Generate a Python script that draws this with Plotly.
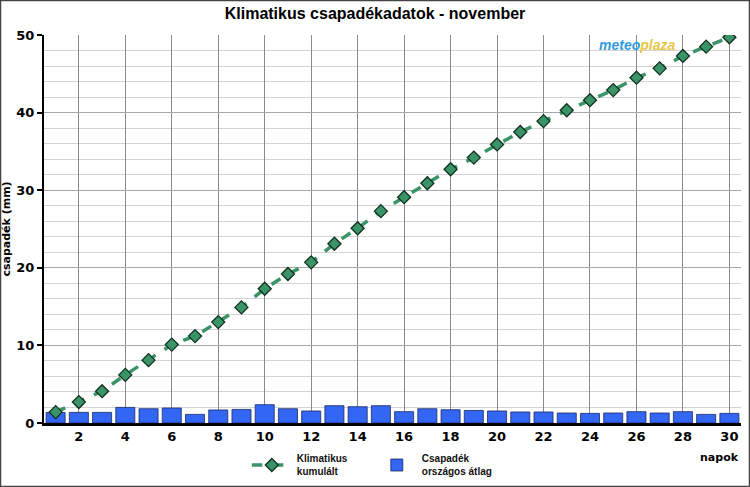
import plotly.graph_objects as go

days = list(range(1, 31))
daily_avg = [1.37, 1.37, 1.37, 2.01, 1.84, 1.93, 1.11, 1.68, 1.75, 2.36,
             1.84, 1.55, 2.23, 2.10, 2.23, 1.46, 1.84, 1.71, 1.62, 1.55,
             1.42, 1.42, 1.29, 1.24, 1.29, 1.46, 1.29, 1.46, 1.11, 1.24]
cumulative = [1.4, 2.7, 4.1, 6.2, 8.1, 10.1, 11.2, 13.0, 14.9, 17.3,
              19.2, 20.7, 23.1, 25.1, 27.3, 29.1, 30.9, 32.7, 34.2, 35.9,
              37.5, 38.9, 40.3, 41.6, 42.9, 44.5, 45.7, 47.3, 48.5, 49.7]
x_ticks = list(range(2, 31, 2))
y_ticks = [0, 10, 20, 30, 40, 50]

fig = go.Figure()
fig.add_trace(go.Bar(
    x=days, y=daily_avg, name="<b>Csapadék<br>országos átlag</b>",
    width=0.82,
    marker=dict(color="#3366f2", line=dict(color="#1a2a66", width=0.8)),
))
fig.add_trace(go.Scatter(
    x=days, y=cumulative, mode="lines+markers",
    name="<b>Klimatikus<br>kumulált</b>",
    line=dict(color="#3a9468", width=3.5, dash="dash"),
    marker=dict(symbol="diamond", size=10, color="#3a9468",
                line=dict(color="#10301f", width=1.3)),
))

fig.update_layout(
    width=750, height=487,
    margin=dict(l=44, r=9, t=35, b=64, autoexpand=False),
    paper_bgcolor="white", plot_bgcolor="white",
    title=dict(text="<b>Klimatikus csapadékadatok - november</b>",
               x=0.5, xanchor="center", y=0.972, yanchor="middle",
               font=dict(family="Liberation Sans", size=16, color="black")),
    showlegend=True,
    legend=dict(orientation="h", x=0.291, y=-0.058, xanchor="left", yanchor="top",
                traceorder="reversed",
                font=dict(family="Liberation Sans", size=10, color="#111"),
                itemwidth=40, entrywidth=70, bgcolor="rgba(0,0,0,0)"),
    font=dict(family="DejaVu Sans", color="black"),
)
fig.update_xaxes(
    range=[0.5, 30.5], tickmode="array", tickvals=x_ticks,
    ticktext=[f"<b>{t}</b>" for t in x_ticks],
    tickfont=dict(family="DejaVu Sans", size=13, color="black"),
    showgrid=True, gridcolor="#8a8a8a", gridwidth=1,
    showline=True, linecolor="black", linewidth=2.5,
    ticks="", zeroline=False, automargin=False,
)
fig.update_yaxes(
    range=[0, 50], tickmode="array", tickvals=y_ticks,
    ticktext=[f"<b>{t}</b>" for t in y_ticks],
    tickfont=dict(family="DejaVu Sans", size=13, color="black"),
    showgrid=True, gridcolor="#a8a8a8", gridwidth=1,
    minor=dict(dtick=2, showgrid=True, gridcolor="#d4d4d4", gridwidth=1),
    showline=True, linecolor="black", linewidth=2,
    ticks="outside", ticklen=5, tickwidth=2, tickcolor="black",
    zeroline=False, automargin=False,
    title=dict(text="<b>csapadék (mm)</b>", standoff=6,
               font=dict(family="DejaVu Sans", size=11, color="black")),
)
fig.add_annotation(x=1.0, y=-0.066, xref="paper", yref="paper",
                   text="<b>napok</b>", showarrow=False, xanchor="right", yanchor="top",
                   font=dict(family="DejaVu Sans", size=11, color="black"))
fig.add_annotation(x=0.851, y=0.975, xref="paper", yref="paper",
                   text="<b><i><span style='color:#2e9be0'>meteo</span><span style='color:#e8c64a'>plaza</span></i></b>",
                   showarrow=False, xanchor="center", yanchor="middle",
                   font=dict(family="Liberation Sans", size=14))
fig.add_shape(type="rect", xref="paper", yref="paper",
              x0=-43.5/697, x1=1 + 8.5/697, y0=-63.5/388, y1=1 + 34.5/388,
              line=dict(color="#444", width=1.5), fillcolor="rgba(0,0,0,0)")

fig.write_html("out.html")
